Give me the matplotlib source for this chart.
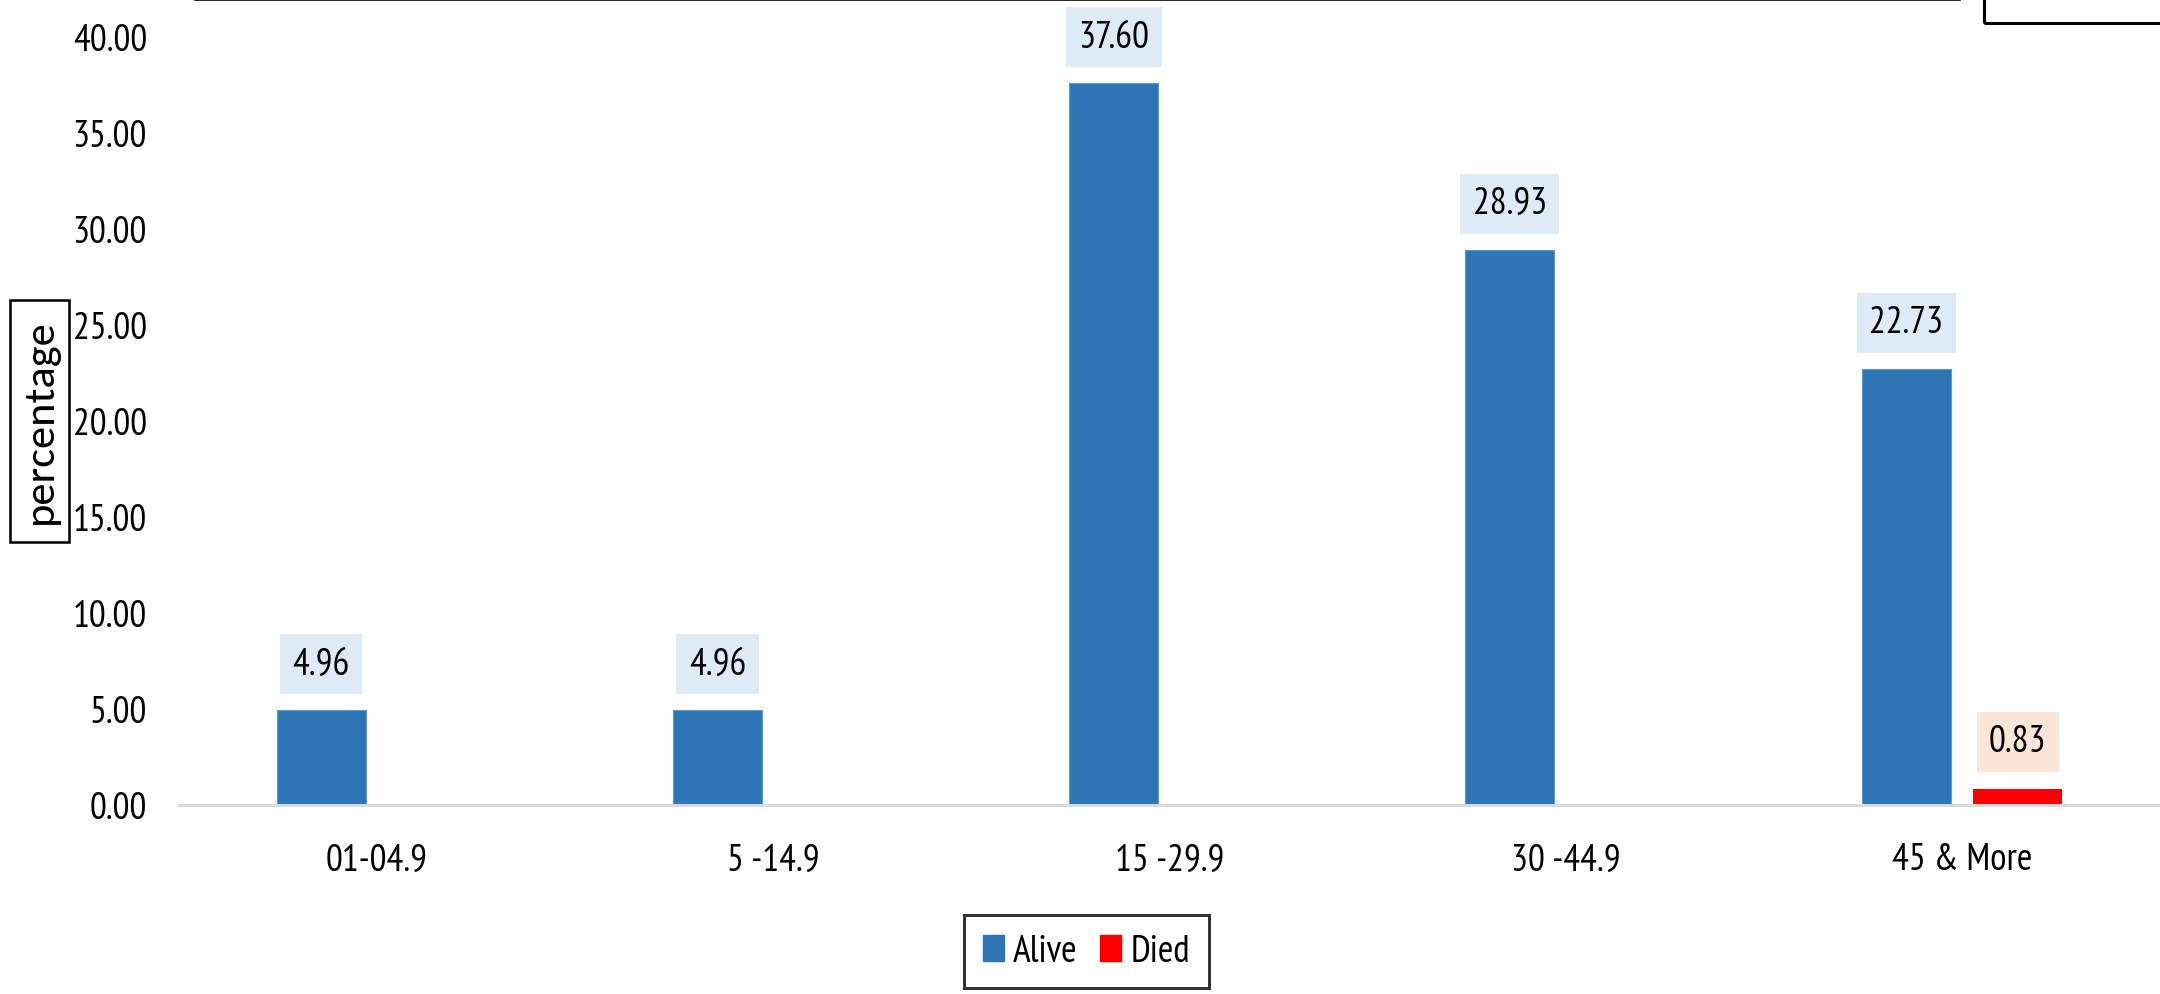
import numpy as np
import matplotlib.pyplot as plt
from matplotlib.patches import Rectangle, Patch
from matplotlib.lines import Line2D

# datos
categorias = ["01-04.9", "5 -14.9", "15 -29.9", "30 -44.9", "45 & More"]
alive = [4.96, 4.96, 37.60, 28.93, 22.73]
died = [0.0, 0.0, 0.0, 0.0, 0.83]
series = ["Alive", "Died"]

azul = "#2E75B6"
rojo = "#FF0000"
plt.rcParams["font.family"] = ["PT Sans Narrow", "DejaVu Sans"]
tam = 27

fig = plt.figure(figsize=(21.6, 9.95), dpi=100)
ax = fig.add_axes([179 / 2160, 1 - 806 / 995, 1 - 179 / 2160, (806 - 38) / 995])

x = np.arange(len(categorias))
ancho = 0.2247
desp = 0.1408
b1 = ax.bar(x - desp, alive, ancho, color=azul, edgecolor="#5B9BD5", linewidth=0.8)
b2 = ax.bar(x + desp, died, ancho, color=rojo, linewidth=0)

# etiquetas de datos con caja
for rect, v in zip(b1, alive):
    ax.annotate(f"{v:.2f}", (rect.get_x() + rect.get_width() / 2, v),
                xytext=(0, 33), textcoords="offset points", ha="center", va="center",
                fontsize=tam, bbox=dict(boxstyle="square,pad=0.33", fc="#DEEBF7", ec="none"))
for rect, v in zip(b2, died):
    if v > 0:
        ax.annotate(f"{v:.2f}", (rect.get_x() + rect.get_width() / 2, v),
                    xytext=(0, 34), textcoords="offset points", ha="center", va="center",
                    fontsize=tam, bbox=dict(boxstyle="square,pad=0.33", fc="#FBE5D6", ec="none"))

ax.set_xlim(-0.5, len(categorias) - 0.5)
ax.set_ylim(0, 40)
ax.set_yticks(np.arange(0, 41, 5))
ax.set_yticklabels([f"{t:.2f}" for t in np.arange(0, 41, 5)])
ax.set_xticks(x)
ax.set_xticklabels(categorias)
ax.tick_params(axis="y", length=0, pad=23, labelsize=tam)
ax.tick_params(axis="x", length=0, pad=27, labelsize=tam)
for s in ["top", "right", "left"]:
    ax.spines[s].set_visible(False)
ax.spines["bottom"].set_color("#D9D9D9")
ax.spines["bottom"].set_linewidth(2.2)

# titulo del eje y con marco
fig.text(40 / 2160, 1 - 422 / 995, "percentage", rotation=90, ha="center", va="center",
         fontsize=32, family=["Carlito", "DejaVu Sans"])
fig.patches.append(Rectangle((10 / 2160, 1 - 543 / 995), 59 / 2160, 242 / 995,
                             transform=fig.transFigure, fill=False, ec="black", lw=1.8))

# restos de cajas recortadas arriba
fig.lines.append(Line2D([195 / 2160, 1960 / 2160], [1 - 0.8 / 995, 1 - 0.8 / 995],
                        transform=fig.transFigure, color="black", lw=1.2))
fig.patches.append(Rectangle((1984 / 2160, 1 - 24 / 995), 200 / 2160, 40 / 995,
                             transform=fig.transFigure, fill=False, ec="black", lw=2.2))

# leyenda
handles = [Patch(color=azul), Patch(color=rojo)]
leg = fig.legend(handles, series, loc="center", bbox_to_anchor=(1086.5 / 2160, 1 - 952.5 / 995),
                 ncol=2, fontsize=tam, frameon=True, fancybox=False, handlelength=0.55,
                 handleheight=0.7, handletextpad=0.25, columnspacing=0.6, borderpad=0.5)
leg.get_frame().set_edgecolor("black")
leg.get_frame().set_linewidth(2.2)

fig.savefig("out.png", dpi=100)
